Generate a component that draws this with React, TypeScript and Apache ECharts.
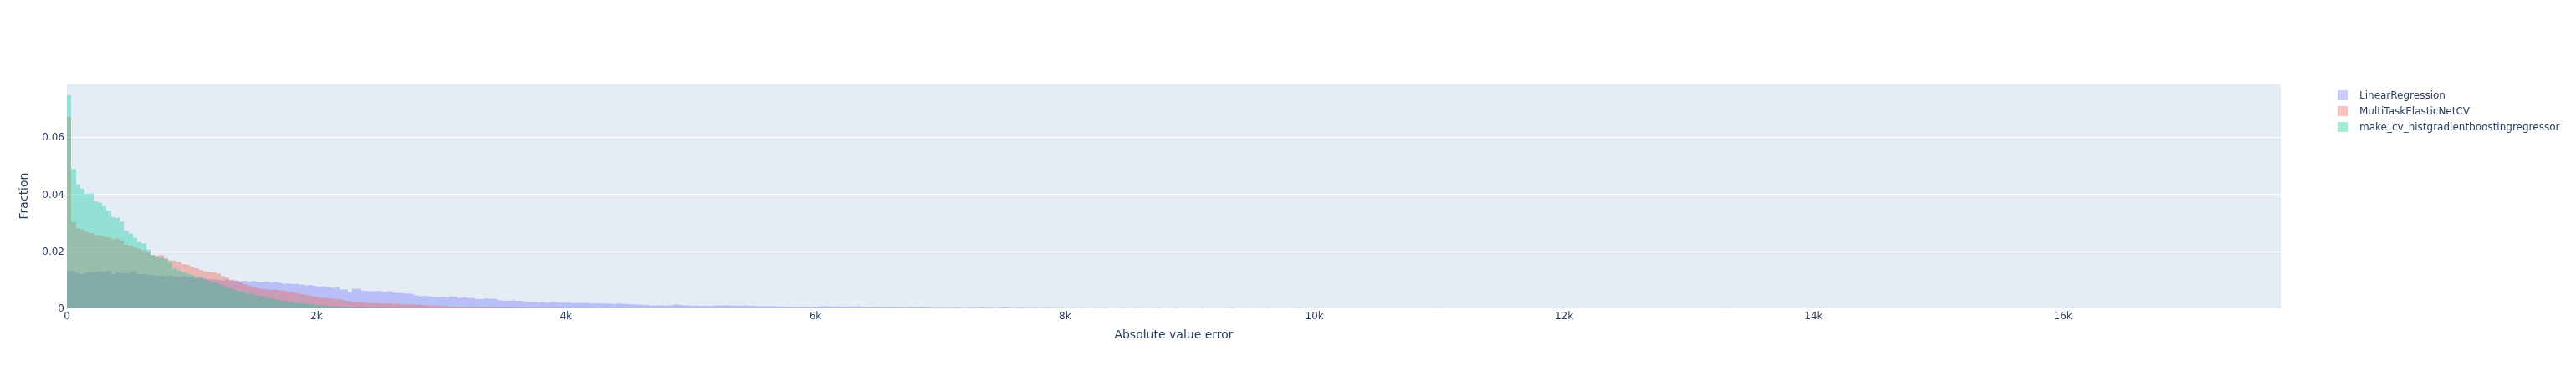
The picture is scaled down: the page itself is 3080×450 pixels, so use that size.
import React, { useEffect, useRef } from "react";
import * as echarts from "echarts";

// Histogram bin width (absolute value error units) and x range
const BIN_SIZE = 35.2;
const X_MAX = 17745;
const Y_MAX = 0.0789;

const seriesNames = [
  "LinearRegression",
  "MultiTaskElasticNetCV",
  "make_cv_histgradientboostingregressor",
];

const xTickLabels = ["0", "2k", "4k", "6k", "8k", "10k", "12k", "14k", "16k"];
const yTickLabels = ["0", "0.02", "0.04", "0.06"];

// Fraction per bin, bin i covers [i*BIN_SIZE, (i+1)*BIN_SIZE)
const linearRegression = [
  0.0132, 0.0130, 0.0123, 0.0120, 0.0125, 0.0127, 0.0130, 0.0130, 0.0127, 0.0132, 0.0120, 0.0125, 0.0123, 0.0123, 0.0128, 0.0130, 0.0120, 0.0120, 0.0118, 0.0117, 0.0115, 0.0115, 0.0112, 0.0115,
  0.0112, 0.0110, 0.0113, 0.0108, 0.0110, 0.0106, 0.0108,
  0.0104, 0.0102, 0.0103, 0.0100, 0.0098, 0.0101, 0.0097,
  0.0098, 0.0095, 0.0097, 0.0094, 0.0096, 0.0093, 0.0092, 0.0094,
  0.0091, 0.0093, 0.0090, 0.0086, 0.0087, 0.0085, 0.0086, 0.0083,
  0.0081, 0.0082, 0.0079, 0.0076, 0.0078, 0.0074, 0.0072, 0.0073,
  0.0066, 0.0066, 0.0057, 0.0069, 0.0068, 0.0062, 0.0061, 0.0060, 0.0061,
  0.0060, 0.0058, 0.0060, 0.0055, 0.0054, 0.0053, 0.0052, 0.0051, 0.0046, 0.0043, 0.0044, 0.0042, 0.0040, 0.0039, 0.0040, 0.0038, 0.0042, 0.0041, 0.0037, 0.0038, 0.0036, 0.0037, 0.0033, 0.0032,
  0.0035, 0.0034, 0.0033, 0.0028, 0.0027, 0.0026, 0.0028, 0.0026, 0.0027, 0.0024, 0.0022, 0.0023, 0.0021, 0.0022, 0.0020, 0.0023, 0.0021, 0.0020, 0.0019, 0.0020, 0.0018, 0.0019, 0.0018, 0.0019, 0.0017, 0.0018, 0.0017, 0.0016, 0.0017, 0.0015, 0.0017, 0.0016, 0.0015, 0.0014, 0.0013, 0.0013, 0.0012,
  0.0011, 0.0010, 0.0011, 0.0010, 0.0009, 0.0011, 0.0014, 0.0012, 0.0011, 0.0010, 0.0009, 0.0009, 0.0008, 0.0009, 0.0008, 0.0009, 0.0010, 0.0011, 0.0010, 0.0009, 0.0010, 0.0009, 0.0010, 0.0008, 0.0009, 0.0007, 0.0008, 0.0007, 0.0008, 0.0007, 0.0006, 0.0006, 0.0005, 0.0005, 0.0004, 0.0005, 0.0004, 0.0005,
  0.0004, 0.0006, 0.0007, 0.0007, 0.0006, 0.0007, 0.0005, 0.0006, 0.0007, 0.0006, 0.0007, 0.0005, 0.0004, 0.0004, 0.0004, 0.0003, 0.0003, 0.0003, 0.0003, 0.0003, 0.0002, 0.0003, 0.0004, 0.0003, 0.0004, 0.0003, 0.0003, 0.0002, 0.0002, 0.0002, 0.0002, 0.0002, 0.0003, 0.0002, 0.0001, 0.0002, 0.0002, 0.0002, 0.0003, 0.0002, 0.0002, 0.0001, 0.0002, 0.0003, 0.0002, 0.0001, 0.0002, 0.0002, 0.0001, 0.0001, 0.0002, 0.0001, 0.0001, 0.0002, 0.0001, 0.0001,
  0.0001, 0, 0.0001, 0.0001, 0, 0.0001, 0, 0, 0.0001, 0, 0.0001, 0, 0, 0, 0.0001, 0, 0, 0.0001, 0, 0, 0, 0, 0.0001, 0, 0, 0, 0.0001, 0, 0, 0, 0, 0, 0.0001, 0, 0, 0, 0, 0, 0, 0.0001, 0, 0, 0, 0, 0, 0, 0, 0.0001, 0, 0, 0, 0, 0, 0, 0.0001,
];
// sparse far outliers: [bin index, fraction]
const linearRegressionOutliers = [
  [312, 0.00005],
  [377, 0.00005],
  [503, 0.00005],
];

const multiTaskElasticNetCV = [
  0.0672, 0.0303, 0.0280, 0.0277, 0.0269, 0.0264, 0.0257, 0.0257, 0.0252, 0.0249, 0.0242, 0.0245, 0.0239, 0.0223, 0.0220, 0.0213, 0.0208, 0.0203, 0.0198, 0.0187, 0.0184, 0.0187, 0.0176, 0.0169,
  0.0167, 0.0163, 0.0155, 0.0153, 0.0145, 0.0141, 0.0135, 0.0130, 0.0128, 0.0126, 0.0122, 0.0113, 0.0108, 0.0101, 0.0096, 0.0092, 0.0085, 0.0080, 0.0076, 0.0071, 0.0068, 0.0066, 0.0064, 0.0066,
  0.0063, 0.0061, 0.0058, 0.0057, 0.0052, 0.0049, 0.0047, 0.0045, 0.0042, 0.0039, 0.0037, 0.0036, 0.0034, 0.0032, 0.0030, 0.0027, 0.0025, 0.0023, 0.0022, 0.0021, 0.0019, 0.0018, 0.0018, 0.0017,
  0.0016, 0.0017, 0.0015, 0.0016, 0.0014, 0.0013, 0.0014, 0.0012, 0.0013, 0.0011, 0.0010, 0.0009, 0.0008, 0.0008, 0.0007, 0.0007, 0.0006, 0.0006, 0.0006, 0.0005, 0.0005, 0.0006, 0.0005,
  0.0004, 0.0004, 0.0003, 0.0003, 0.0003, 0.0003, 0.0002, 0.0002, 0.0002, 0.0002, 0.0001, 0.0002, 0.0001, 0.0002, 0.0001, 0.0001, 0.0001, 0.0001, 0.0001, 0.0001, 0.0001, 0, 0.0001, 0, 0.0001, 0, 0, 0.0001, 0, 0, 0.0001,
];

const histGradientBoosting = [
  0.0748, 0.0489, 0.0435, 0.0420, 0.0402, 0.0403, 0.0377, 0.0371, 0.0360, 0.0343, 0.0320, 0.0318, 0.0304, 0.0272, 0.0262, 0.0247, 0.0233, 0.0228, 0.0206, 0.0187, 0.0183, 0.0178, 0.0172,
  0.0160, 0.0140, 0.0133, 0.0127, 0.0122, 0.0117, 0.0112,
  0.0108, 0.0102, 0.0097, 0.0091, 0.0085, 0.0080, 0.0074, 0.0069, 0.0064, 0.0060, 0.0056, 0.0052, 0.0048, 0.0045, 0.0042, 0.0038, 0.0035,
  0.0032, 0.0029, 0.0026, 0.0023, 0.0021, 0.0019, 0.0017, 0.0016, 0.0014, 0.0013, 0.0011, 0.0010, 0.0008, 0.0007, 0.0007, 0.0006, 0.0005, 0.0004, 0.0004, 0.0003, 0.0003, 0.0003,
  0.0002, 0.0003, 0.0002, 0.0002, 0.0002, 0.0001, 0.0002, 0.0001, 0.0001, 0.0001, 0.0001, 0, 0.0001, 0, 0.0001, 0, 0.0001,
];

const seriesColors = [
  "rgba(99,110,250,0.35)",
  "rgba(239,85,59,0.35)",
  "rgba(0,204,150,0.35)",
];

const FONT = 'Verdana, "DejaVu Sans", sans-serif';
const TEXT_COLOR = "#2a3f5f";

function toBins(values: number[], outliers: number[][] = []) {
  const out: number[][] = [];
  values.forEach((v, i) => {
    if (v > 0) out.push([i * BIN_SIZE, (i + 1) * BIN_SIZE, v]);
  });
  outliers.forEach(([i, v]) => out.push([i * BIN_SIZE, (i + 1) * BIN_SIZE, v]));
  return out;
}

function makeSeries(name: string, color: string, data: number[][]) {
  return {
    type: "custom",
    name,
    itemStyle: { color },
    encode: { x: [0, 1], y: 2 },
    data,
    renderItem: (params: any, api: any) => {
      const p0 = api.coord([api.value(0), api.value(2)]);
      const p1 = api.coord([api.value(1), 0]);
      const x0 = Math.round(p0[0]);
      const x1 = Math.round(p1[0]);
      return {
        type: "rect",
        shape: { x: x0, y: p0[1], width: x1 - x0, height: p1[1] - p0[1] },
        style: { fill: color },
      };
    },
  };
}

export default function App() {
  const ref = useRef<HTMLDivElement>(null);
  useEffect(() => {
    if (!ref.current) return;
    const chart = echarts.init(ref.current, undefined, { renderer: "svg" });
    const option = {
      animation: false,
      textStyle: { fontFamily: FONT },
      grid: {
        left: 80,
        right: 353,
        top: 100,
        bottom: 81,
        show: true,
        backgroundColor: "#E5ECF6",
        borderWidth: 0,
      },
      legend: {
        orient: "vertical",
        left: 2790,
        top: 103,
        icon: "rect",
        itemWidth: 12,
        itemHeight: 12,
        itemGap: 7,
        data: seriesNames,
        textStyle: { color: TEXT_COLOR, fontSize: 12, fontFamily: FONT, padding: [0, 0, 0, 9] },
      },
      xAxis: {
        type: "value",
        min: 0,
        max: X_MAX,
        interval: 2000,
        name: "Absolute value error",
        nameLocation: "middle",
        nameGap: 24,
        nameTextStyle: { color: TEXT_COLOR, fontSize: 14, fontFamily: FONT },
        axisLine: { show: false },
        axisTick: { show: false },
        splitLine: { show: false },
        axisLabel: {
          color: TEXT_COLOR,
          fontSize: 12,
          fontFamily: FONT,
          margin: 3,
          showMaxLabel: false,
          formatter: (v: number) => xTickLabels[Math.round(v / 2000)] ?? "",
        },
      },
      yAxis: {
        type: "value",
        min: 0,
        max: Y_MAX,
        interval: 0.02,
        name: "Fraction",
        nameLocation: "middle",
        nameGap: 45,
        nameTextStyle: { color: TEXT_COLOR, fontSize: 14, fontFamily: FONT },
        axisLine: { show: false },
        axisTick: { show: false },
        splitLine: { show: true, lineStyle: { color: "#ffffff", width: 1 } },
        axisLabel: {
          color: TEXT_COLOR,
          fontSize: 12,
          fontFamily: FONT,
          margin: 3,
          showMaxLabel: false,
          formatter: (v: number) => yTickLabels[Math.round(v / 0.02)] ?? "",
        },
      },
      series: [
        makeSeries(seriesNames[0], seriesColors[0], toBins(linearRegression, linearRegressionOutliers)),
        makeSeries(seriesNames[1], seriesColors[1], toBins(multiTaskElasticNetCV)),
        makeSeries(seriesNames[2], seriesColors[2], toBins(histGradientBoosting)),
      ],
    };
    chart.setOption(option as any);
    return () => chart.dispose();
  }, []);
  return (
    <div
      ref={ref}
      style={{ position: "fixed", left: 0, top: 0, width: 3080, height: 450 }}
    />
  );
}
